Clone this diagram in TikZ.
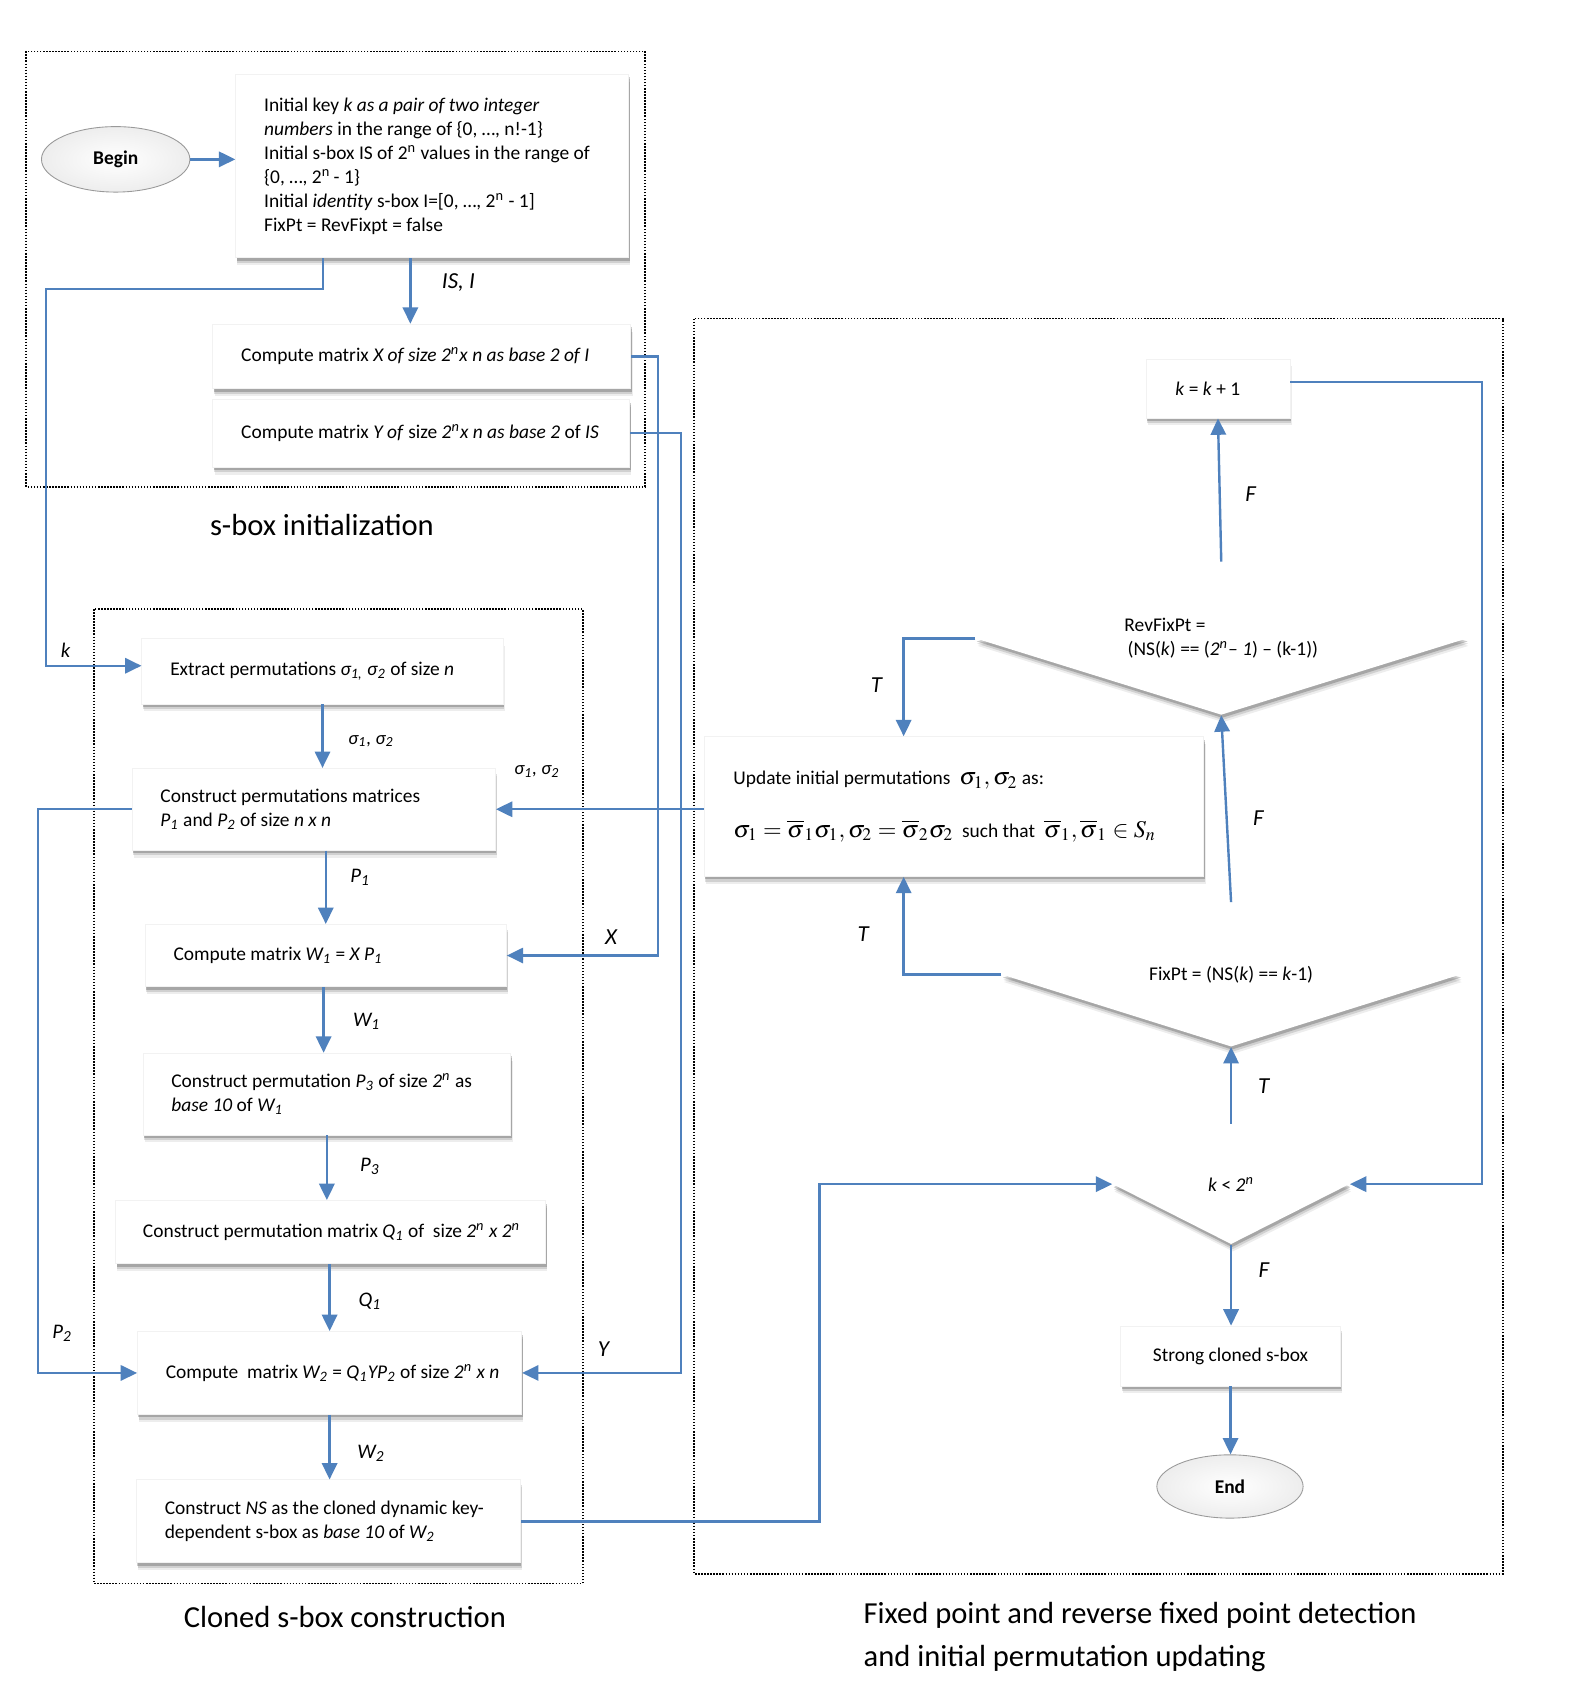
\documentclass[tikz,border=0pt]{standalone}
\usepackage{mathptmx}
\usepackage[no-math]{fontspec}
\setmainfont{Carlito}
\usetikzlibrary{shapes.geometric,shadows,arrows.meta,calc}
\definecolor{lineblue}{RGB}{79,129,189}
\tikzset{
  ln/.style={draw=lineblue, line width=1.1pt},
  arr/.style={ln, -{Triangle[length=7.5pt,width=7pt]}},
  shad/.style={drop shadow={shadow xshift=0.8pt, shadow yshift=-3.4pt, opacity=0.07, fill=black},
               drop shadow={shadow xshift=0.6pt, shadow yshift=-2.4pt, opacity=0.12, fill=black},
               drop shadow={shadow xshift=0.4pt, shadow yshift=-1.4pt, opacity=0.2, fill=black}},
  box/.style={rectangle, fill=white, draw=black!5, inner sep=0pt, align=flush left, shad,
    font=\fontsize{8.9}{11}\selectfont},
  dia/.style={diamond, fill=white, inner sep=0pt, align=center, shad,
    font=\fontsize{8.9}{11}\selectfont},
  term/.style={ellipse, draw=gray!80, inner color=white, outer color=gray!14,
    font=\bfseries\fontsize{8.9}{11}\selectfont, minimum width=68pt, minimum height=30pt, inner sep=0pt},
  frame/.style={draw=black, line width=0.7pt, dash pattern=on 0.7pt off 0.7pt},
  lab/.style={font=\itshape\fontsize{10.5}{13}\selectfont, inner sep=0pt},
  labs/.style={font=\itshape\fontsize{8.6}{11}\selectfont, inner sep=0pt},
  labm/.style={font=\itshape\fontsize{9.5}{12}\selectfont, inner sep=0pt},
  title/.style={font=\fontsize{14}{20}\selectfont, inner sep=0pt, align=left},
}
\newcommand{\sbs}[1]{\textsubscript{#1}}
\newcommand{\sps}[1]{\textsuperscript{#1}}
\newcommand{\oneline}[1]{\mbox{\spaceskip=0pt \xspaceskip=0pt #1}}
\newcommand{\mth}[1]{{\fontsize{11}{13}\selectfont$#1$}}
\begin{document}
\begin{tikzpicture}[x=0.5pt,y=-0.5pt]
\useasboundingbox[fill=white] (0,0) rectangle (1440,1565);

% frames
\draw[frame] (24,47) rectangle (591,446);
\draw[frame] (86,558) rectangle (534,1451);
\draw[frame] (636,292) rectangle (1377,1442);

% titles
\node[title] (t1) at (295,481) {s-box initialization};
\node[title] (t2) at (316,1482) {Cloned s-box construction};
\node[title, anchor=west] (t3) at (791,1500) {Fixed point and reverse fixed point detection\\and initial permutation updating};

% s-box initialization
\node[term] (begin) at (106,146) {Begin};
\node[box, minimum width=180pt, minimum height=84pt, text width=154pt] (init) at (396,152)
 {\oneline{Initial key \textit{k as a pair of two integer}}\\
  \oneline{\textit{numbers} in the range of \{0, …, n!-1\}}\\
  \oneline{Initial s-box IS of 2\sps{n} values in the range of}\\
  \oneline{\{0, …, 2\sps{n}\,- 1\}}\\
  \oneline{Initial \textit{identity} s-box I=[0, …, 2\sps{n} - 1]}\\
  \oneline{FixPt = RevFixpt = false}};
\node[box, minimum width=191.5pt, minimum height=29.5pt, text width=165.5pt] (compX) at (386.5,326.5)
 {\oneline{Compute matrix \textit{X of size 2\sps{n}x n as base 2 of I}}};
\node[box, minimum width=191pt, minimum height=31pt, text width=165pt] (compY) at (386,397)
 {\oneline{Compute matrix \textit{Y of} size \textit{2\sps{n}x n as base 2} of \textit{IS}}};

% cloned s-box construction
\node[box, minimum width=165.5pt, minimum height=30pt, text width=139.5pt] (extract) at (295.5,615)
 {\oneline{Extract permutations \textit{σ\sbs{1,} σ\sbs{2}} of size \textit{n}}};
\node[box, minimum width=166.5pt, minimum height=37.5pt, text width=140.5pt] (constrP) at (287.5,741.5)
 {\oneline{Construct permutations matrices}\\\oneline{\textit{P\sbs{1}} and \textit{P\sbs{2}} of size \textit{n x n}}};
\node[box, minimum width=165.5pt, minimum height=28.5pt, text width=139.5pt] (W1) at (298.5,875.5)
 {\oneline{Compute matrix \textit{W\sbs{1}} = \textit{X P\sbs{1}}}};
\node[box, minimum width=168.5pt, minimum height=37.5pt, text width=142.5pt] (P3) at (299.5,1002.5)
 {\oneline{Construct permutation \textit{P\sbs{3}} of size \textit{2\sps{n}} as}\\\oneline{\textit{base 10} of \textit{W\sbs{1}}}};
\node[box, minimum width=197pt, minimum height=29pt, text width=172pt] (Q1) at (303,1129)
 {\oneline{Construct permutation matrix \textit{Q\sbs{1}} of \ size \textit{2\sps{n} x 2\sps{n}}}};
\node[box, minimum width=176pt, minimum height=38pt, text width=150pt] (W2) at (302,1258)
 {\oneline{Compute \ matrix \textit{W\sbs{2}} = \textit{Q\sbs{1}YP\sbs{2}} of size \textit{2\sps{n} x n}}};
\node[box, minimum width=176pt, minimum height=38pt, text width=150pt] (NS) at (301,1394)
 {\oneline{Construct \textit{NS} as the cloned dynamic key-}\\\oneline{dependent s-box as \textit{base 10} of \textit{W\sbs{2}}}};

% detection
\node[box, minimum width=66pt, minimum height=27pt, text width=39pt] (kk) at (1116,356)
 {\oneline{\textit{k} = \textit{k} + 1}};
\node[dia, align=flush left, minimum width=225pt, minimum height=70pt, aspect=3.2] (rev) at (1119,585)
 {\oneline{RevFixPt =}\\ \oneline{\,(NS(\textit{k}) == (\textit{2\sps{n}– 1}) – (k-1))}};
\node[box, minimum width=229pt, minimum height=64pt, text width=202pt] (update) at (874,739)
 {\oneline{Update initial permutations \ \mth{\sigma_{1},\sigma_{2}} as:}\\[13pt]
  \oneline{\mth{\sigma_{1}=\overline{\sigma}_{1}\sigma_{1},\sigma_{2}=\overline{\sigma}_{2}\sigma_{2}} \ such that \
  \mth{\overline{\sigma}_{1},\overline{\sigma}_{1}\in S_{n}}}};
\node[dia, minimum width=210pt, minimum height=66pt, aspect=3.2] (fix) at (1128,893)
 {\oneline{FixPt = (NS(\textit{k}) == \textit{k}-1)}};
\node[dia, minimum width=108.5pt, minimum height=55pt, aspect=2] (kless) at (1128,1085)
 {\oneline{\textit{k} < \textit{2\sps{n}}}};
\node[box, align=center, minimum width=100.5pt, minimum height=27.5pt] (strong) at (1127.5,1242.5)
 {\oneline{Strong cloned s-box}};
\node[term, minimum width=67pt, minimum height=29pt] (end) at (1127,1362) {End};

% bend coordinates
\coordinate (kbend) at (42,265);
\coordinate (xbend) at (603,0);
\coordinate (ybend) at (624,0);
\coordinate (pbend) at (35,0);
\coordinate (nsbend) at (751,0);
\coordinate (rbend) at (1358,0);
\coordinate (tbend) at (828,0);

% connectors: initialization
\draw[arr] (begin.east) -- (begin.east -| init.west);
\draw[arr] ([xshift=-10pt]init.south) -- ([xshift=-10pt]init.south |- compX.north);
\draw[arr] ([xshift=-50pt]init.south) |- (kbend) |- ([yshift=2.5pt]extract.west);
\draw[arr] (compX.east) -| (xbend |- W1.east) -- (W1.east);
\draw[arr] (compY.east) -| (ybend |- W2.east) -- (W2.east);

% connectors: cloned column
\draw[arr] (extract.south) -- (extract.south |- constrP.north);
\draw[arr] (W1.north |- constrP.south) -- (W1.north);
\draw[arr] ([xshift=-1pt]W1.south) -- ([xshift=-1pt]W1.south |- P3.north);
\draw[arr] (P3.south) -- (P3.south |- Q1.north);
\draw[arr] (W2.north |- Q1.south) -- (W2.north);
\draw[arr] (W2.south) -- (W2.south |- NS.north);
\draw[arr] (update.west |- constrP.east) -- (constrP.east);
\draw[arr] (constrP.west) -| (pbend |- W2.west) -- (W2.west);
\draw[arr] (NS.east) -| (nsbend |- kless.west) -- (kless.west);

% connectors: detection
\draw[arr] ([yshift=3pt]kk.east) -| (rbend |- kless.east) -- (kless.east);
\draw[arr] (rev.north) -- (kk.south);
\draw[arr] (rev.west) -| (tbend |- update.north);
\draw[arr] (fix.west) -| (tbend |- update.south);
\draw[arr] (fix.north) -- (rev.south);
\draw[arr] (kless.north) -- (fix.south);
\draw[arr] (kless.south) -- (kless.south |- strong.north);
\draw[arr] (strong.south) -- (strong.south |- end.north);

% labels
\node[lab] (lIS) at (420,259) {IS, I};
\node[labm] (lk) at (60,596) {k};
\node[labs] (ls1) at (340,679) {σ\sbs{1}, σ\sbs{2}};
\node[labs] (ls2) at (492,707) {σ\sbs{1}, σ\sbs{2}};
\node[labm] (lP1) at (330,804) {P\sbs{1}};
\node[lab] (lX) at (560,859) {X};
\node[labm] (lW1) at (336,936) {W\sbs{1}};
\node[labm] (lP3) at (339,1069) {P\sbs{3}};
\node[labm] (lQ1) at (339,1192) {Q\sbs{1}};
\node[labm] (lP2) at (57,1222) {P\sbs{2}};
\node[lab] (lY) at (553,1236) {Y};
\node[labm] (lW2) at (340,1332) {W\sbs{2}};
\node[lab] (lF1) at (1146,453) {F};
\node[lab] (lT1) at (803,628) {T};
\node[lab] (lF2) at (1153,750) {F};
\node[lab] (lT2) at (791,856) {T};
\node[lab] (lT3) at (1158,995) {T};
\node[lab] (lF3) at (1158,1164) {F};
\end{tikzpicture}
\end{document}
